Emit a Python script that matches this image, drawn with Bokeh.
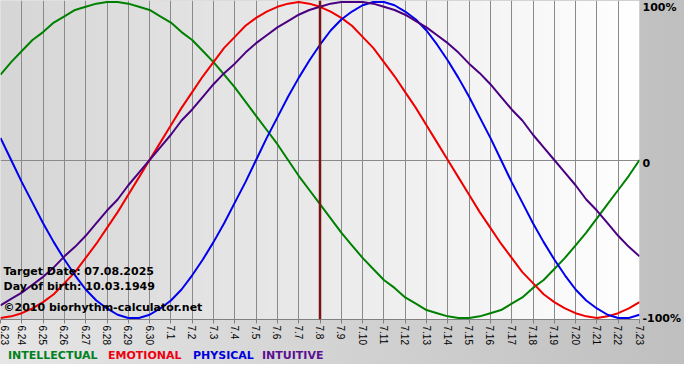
import numpy as np
from bokeh.plotting import figure
from bokeh.layouts import column
from bokeh.models import Range1d, FixedTicker, Span, Label, LinearAxis, Div
from bokeh.embed import file_html
from bokeh.resources import INLINE

# ---- data (one reading every half day) ----
day_labels = ["6.23", "6.24", "6.25", "6.26", "6.27", "6.28", "6.29", "6.30",
              "7.1", "7.2", "7.3", "7.4", "7.5", "7.6", "7.7", "7.8", "7.9",
              "7.10", "7.11", "7.12", "7.13", "7.14", "7.15", "7.16", "7.17",
              "7.18", "7.19", "7.20", "7.21", "7.22", "7.23"]
sample_days = [i / 2 for i in range(61)]

intellectual = [54, 62, 69, 76, 81, 87, 91, 95, 97, 99, 100, 100, 99, 97, 95,
                91, 87, 81, 76, 69, 62, 54, 46, 37, 28, 19, 10, 0, -10, -19,
                -28, -37, -46, -54, -62, -69, -76, -81, -87, -91, -95, -97,
                -99, -100, -100, -99, -97, -95, -91, -87, -81, -76, -69, -62,
                -54, -46, -37, -28, -19, -10, 0]
emotional = [-100, -99, -97, -94, -90, -85, -78, -71, -62, -53, -43, -33, -22,
             -11, 0, 11, 22, 33, 43, 53, 62, 71, 78, 85, 90, 94, 97, 99, 100,
             99, 97, 94, 90, 85, 78, 71, 62, 53, 43, 33, 22, 11, 0, -11, -22,
             -33, -43, -53, -62, -71, -78, -85, -90, -94, -97, -99, -100, -99,
             -97, -94, -90]
physical = [14, 0, -14, -27, -40, -52, -63, -73, -82, -89, -94, -98, -100,
            -100, -98, -94, -89, -82, -73, -63, -52, -40, -27, -14, 0, 14, 27,
            40, 52, 63, 73, 82, 89, 94, 98, 100, 100, 98, 94, 89, 82, 73, 63,
            52, 40, 27, 14, 0, -14, -27, -40, -52, -63, -73, -82, -89, -94,
            -98, -100, -100, -98]
intuitive = [-92, -88, -84, -79, -74, -68, -61, -55, -48, -40, -32, -25, -16,
             -8, 0, 8, 16, 25, 32, 40, 48, 55, 61, 68, 74, 79, 84, 88, 92, 95,
             97, 99, 100, 100, 100, 99, 97, 95, 92, 88, 84, 79, 74, 68, 61, 55,
             48, 40, 32, 25, 16, 8, 0, -8, -16, -25, -32, -40, -48, -55, -61]

series_names = ["INTELLECTUAL", "EMOTIONAL", "PHYSICAL", "INTUITIVE"]
target_label = "7.8"
info_lines = ["Target Date: 07.08.2025", "Day of birth: 10.03.1949",
              "\u00a92010 biorhythm-calculator.net"]
y_ticks = [100, 0, -100]
y_tick_labels = ["100%", "0", "-100%"]

# ---- styles / layout ----
series_colors = ["#008000", "#ee0000", "#0000ee", "#4b0082"]
legend_colors = ["#008020", "#ee0011", "#0000dd", "#5a1090"]
legend_widths = ["100px", "85px", "69px", "auto"]
info_offsets = [48, 33, 12]
FONT = "DejaVu Sans"
BG = "linear-gradient(90deg, #e6e6e6, #bfbfbf)"

W_FIG = 684
BORDER_R, BORDER_B = 43, 29
FRAME_H = 319
H_FIG = FRAME_H + BORDER_B
H_LEG = 364 - H_FIG

x = list(range(len(day_labels)))
x_end = len(day_labels) - 1
YMAX = 101

p = figure(width=W_FIG, height=H_FIG,
           x_range=Range1d(0, x_end), y_range=Range1d(-YMAX, YMAX),
           output_backend="svg", toolbar_location=None,
           y_axis_location=None,
           min_border_left=0, min_border_right=BORDER_R,
           min_border_top=0, min_border_bottom=BORDER_B)

p.border_fill_color = None
p.background_fill_color = None
p.outline_line_color = None
p.styles = {"background": BG}

# plot-area gradient (gray left -> white right)
W = 256
img = np.empty((1, W), dtype=np.uint32)
view = img.view(dtype=np.uint8).reshape((1, W, 4))
g = np.linspace(0xd6, 0xff, W).astype(np.uint8)
view[0, :, 0] = g
view[0, :, 1] = g
view[0, :, 2] = g
view[0, :, 3] = 255
p.image_rgba(image=[img], x=0, y=-YMAX, dw=x_end, dh=2 * YMAX, level="image")

# grid
p.xgrid.ticker = FixedTicker(ticks=x)
p.xgrid.grid_line_color = "#8a8a8a"
p.ygrid.ticker = FixedTicker(ticks=[0])
p.ygrid.grid_line_color = "#8a8a8a"

# x axis
ax = p.xaxis[0]
ax.ticker = FixedTicker(ticks=x)
ax.major_label_overrides = {i: lab for i, lab in enumerate(day_labels)}
ax.major_label_orientation = -np.pi / 2
ax.axis_line_color = "#808080"
ax.major_tick_line_color = "#808080"
ax.major_tick_out = 4
ax.major_tick_in = 0
ax.minor_tick_line_color = None
ax.major_label_text_font = "Liberation Sans"
ax.major_label_text_font_size = "10px"
ax.major_label_text_color = "#000000"
ax.major_label_standoff = 2

# right value labels: own range so the top label sits just inside the canvas
p.extra_y_ranges = {"labels": Range1d(-100.5, 104.5)}
ry = LinearAxis(y_range_name="labels", ticker=FixedTicker(ticks=y_ticks),
                major_label_overrides=dict(zip(y_ticks, y_tick_labels)),
                axis_line_color=None, major_tick_line_color=None,
                major_tick_out=0, major_tick_in=0,
                minor_tick_line_color=None, major_label_standoff=3,
                major_label_text_font=FONT, major_label_text_font_style="bold",
                major_label_text_font_size="11px",
                major_label_text_color="#000000")
p.add_layout(ry, "right")

# target date line
target_index = day_labels.index(target_label)
p.add_layout(Span(location=target_index, dimension="height",
                  line_color="#7a1414", line_width=2.5))

# curves
for vals, col in zip([intellectual, emotional, physical, intuitive], series_colors):
    p.line(sample_days, vals, line_color=col, line_width=2)

# info text
for txt, off in zip(info_lines, info_offsets):
    p.add_layout(Label(x=0, y=-YMAX, x_offset=3, y_offset=off, text=txt,
                       text_font=FONT, text_font_style="bold",
                       text_font_size="11px", text_color="#000000",
                       text_baseline="middle"))

# legend row
legend_html = "".join(
    f'<span style="display:inline-block;width:{w};color:{c}">{n}</span>'
    for n, c, w in zip(series_names, legend_colors, legend_widths))
legend = Div(text=legend_html, width=W_FIG, height=H_LEG, margin=0,
             styles={"background": BG, "font-family": FONT,
                     "font-weight": "bold", "font-size": "11px",
                     "line-height": f"{H_LEG}px", "white-space": "nowrap",
                     "padding-left": "8px", "box-sizing": "border-box"})

layout = column(p, legend, spacing=0)
open("out.html", "w").write(file_html(layout, INLINE))
